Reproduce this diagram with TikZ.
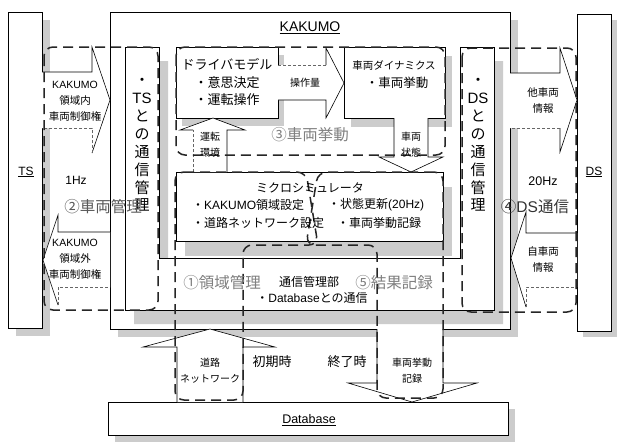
\documentclass[tikz,border=0pt]{standalone}
\usepackage{fontspec}
\setmainfont{Noto Sans CJK JP}
\newfontfamily\lat{Liberation Sans}
\usetikzlibrary{shadows}
\begin{document}
\begin{tikzpicture}[x=1pt,y=-1pt,
  box/.style={draw=black, line width=0.7pt, fill=white, inner sep=0pt, outer sep=0pt},
  shad/.style n args={2}{drop shadow={shadow xshift=#1pt, shadow yshift=-#2pt, fill=black!20, opacity=1}},
  region/.style={draw=black!85, line width=1.5pt, dash pattern=on 10pt off 6pt, rounded corners=9pt},
  afill/.style={fill=white},
  aedge/.style={draw=black, line width=0.6pt},
  faint/.style={draw=black!60, line width=0.6pt, dash pattern=on 3pt off 2pt},
  txt/.style={inner sep=0pt, align=center},
  f10/.style={font=\fontsize{10}{16}\selectfont},
  f11/.style={font=\fontsize{10.5}{16}\selectfont},
  f12/.style={font=\fontsize{12}{16}\selectfont},
  f13/.style={font=\fontsize{13}{17.5}\selectfont},
  vtxt/.style={font=\fontsize{15}{17.9}\selectfont},
  reglbl/.style={font=\fontsize{15.5}{18}\selectfont},
]
\useasboundingbox (0,0) rectangle (617,442);
\fill[white] (0,0) rectangle (617,442);

% outer boxes
\node[box, shad={8}{8}, anchor=north west, minimum width=34pt, minimum height=316pt] (ts) at (8,12) {};
\node[box, shad={6}{6}, anchor=north west, minimum width=34pt, minimum height=317pt] (ds) at (577,14) {};
\node[box, shad={8}{8}, anchor=north west, minimum width=400pt, minimum height=317pt] (kak) at (110,12) {};
\node[box, shad={7}{7}, anchor=north west, minimum width=400pt, minimum height=33pt] (db) at (108,402) {};

% communication management (U shape)
\draw[box, shad={9}{14}] (125,47) -- (159,47) -- (159,258) -- (460,258) -- (460,47) -- (494,47) -- (494,310) -- (125,310) -- cycle;

% inner boxes
\node[box, shad={6}{8}, anchor=north west, minimum width=102pt, minimum height=71pt] (drv) at (176,47) {};
\node[box, shad={7}{9}, anchor=north west, minimum width=101pt, minimum height=71pt] (veh) at (344,47) {};
\node[box, shad={9}{15}, anchor=north west, minimum width=267pt, minimum height=69pt] (sim) at (176,172) {};

% block arrows
% TS -> KAKUMO
\fill[afill] (42,72) -- (92,72) -- (92,47) -- (110,100) -- (92,153) -- (92,128) -- (42,128) -- cycle;
\draw[aedge] (42,72) -- (92,72) -- (92,47) -- (110,100) -- (92,153);
\draw[faint] (92,153) -- (92,128) -- (42,128);
% KAKUMO -> TS
\fill[afill] (110,232) -- (58,232) -- (58,215) -- (43,260) -- (58,305) -- (58,287) -- (110,287) -- cycle;
\draw[aedge] (110,232) -- (58,232) -- (58,215) -- (43,260) -- (58,305);
\draw[faint] (58,305) -- (58,287) -- (110,287);
% operation amount
\fill[afill] (278,65) -- (326,65) -- (326,48) -- (344,83) -- (326,118) -- (326,100) -- (278,100) -- cycle;
\draw[faint] (278,65) -- (326,65);
\draw[aedge] (326,65) -- (326,48) -- (344,83) -- (326,118) -- (326,100) -- (278,100);
% vehicle state (down)
\fill[afill] (394,118) -- (394,157) -- (379,157) -- (411,172) -- (443,157) -- (428,157) -- (428,118) -- cycle;
\draw[aedge] (394,118) -- (394,157) -- (379,157) -- (411,172) -- (443,157) -- (428,157) -- (428,118);
% driving environment (up)
\fill[afill] (193,172) -- (193,130) -- (180,130) -- (213,118) -- (245,130) -- (227,130) -- (227,172) -- cycle;
\draw[faint] (193,172) -- (193,130);
\draw[aedge] (193,130) -- (180,130) -- (213,118) -- (245,130) -- (227,130) -- (227,172);
% other vehicles -> DS
\fill[afill] (510,73) -- (560,73) -- (560,48) -- (577,100) -- (560,152) -- (560,128) -- (510,128) -- cycle;
\draw[aedge] (510,73) -- (560,73) -- (560,48) -- (577,100) -- (560,152) -- (560,128);
\draw[faint] (560,128) -- (510,128);
% own vehicle DS -> KAKUMO
\fill[afill] (577,233) -- (526,233) -- (526,212) -- (511,258) -- (526,307) -- (526,287) -- (577,287) -- cycle;
\draw[aedge] (577,233) -- (526,233) -- (526,212) -- (511,258) -- (526,307);
\draw[faint] (526,307) -- (526,287) -- (577,287);
% road network (up)
\fill[afill] (177,402) -- (177,347) -- (143,347) -- (210,329) -- (275,347) -- (243,347) -- (243,402) -- cycle;
\draw[aedge] (177,402) -- (177,347) -- (143,347) -- (210,329) -- (275,347) -- (243,347) -- (243,402);
% vehicle behaviour record (down)
\fill[afill] (377,329) -- (377,383) -- (348,383) -- (412,402) -- (477,383) -- (443,383) -- (443,329) -- cycle;
\draw[aedge] (377,329) -- (377,383) -- (348,383) -- (412,402) -- (477,383) -- (443,383) -- (443,329);

% dashed regions
\draw[region] (44,47) rectangle (158,310);
\draw[region] (176,47) rectangle (445,155);
\draw[region] (462,48) rectangle (576,312);
\draw[region] (175,172) -- (306,172) -- (318,245) -- (243,245) -- (243,400) -- (175,400) -- cycle;
\draw[region] (443,172) -- (318,172) -- (306,245) -- (377,245) -- (377,398) -- (443,398) -- cycle;

% box texts
\node[txt] (tst) at (26,172) {\lat\fontsize{12}{14}\selectfont\underline{TS}};
\node[txt] (dst) at (594,172) {\lat\fontsize{12}{14}\selectfont\underline{DS}};
\node[txt] (kakt) at (310,28) {\lat\fontsize{14}{16}\selectfont\underline{KAKUMO}};
\node[txt] (dbt) at (309,420) {\lat\fontsize{12.5}{14}\selectfont\underline{Database}};
\node[txt, f13] (drvt) at (227,82) {ドライバモデル\\・意思決定\\・運転操作};
\node[txt, font=\fontsize{10.5}{12}\selectfont] (veht1) at (394,65) {車両ダイナミクス};
\node[txt, font=\fontsize{12.5}{14}\selectfont] (veht2) at (397,83) {・車両挙動};
\node[txt, f12] (simt) at (310,188) {ミクロシミュレータ};
\node[txt, f12, anchor=west] (sim1) at (192,205) {・{\lat KAKUMO}領域設定};
\node[txt, f12, anchor=west] (sim2) at (328,205) {・状態更新{\lat (20Hz)}};
\node[txt, f12, anchor=west] (sim3) at (192,223) {・道路ネットワーク設定};
\node[txt, f12, anchor=west] (sim4) at (337,223) {・車両挙動記録};
\node[txt, f12] (com1) at (309,282) {通信管理部};
\node[txt, f12] (com2) at (312,298) {・{\lat Database}との通信};
\node[txt, vtxt] (tsc) at (142,145) {・\\{\lat TS}\\と\\の\\通\\信\\管\\理};
\node[txt, vtxt] (dsc) at (478,145) {・\\{\lat DS}\\と\\の\\通\\信\\管\\理};

% arrow labels
\node[txt, f10] (opq) at (305,83) {操作量};
\node[txt, f10] (env) at (210,145) {運転\\環境};
\node[txt, f10] (vst) at (411,145) {車両\\状態};
\node[txt, f11] (inctl) at (75,101) {{\lat KAKUMO}\\領域内\\車両制御権};
\node[txt, f11] (outctl) at (75,259) {{\lat KAKUMO}\\領域外\\車両制御権};
\node[txt, f11] (oth) at (543,101) {他車両\\情報};
\node[txt, f11] (own) at (543,260) {自車両\\情報};
\node[txt, f10] (road) at (210,371) {道路\\ネットワーク};
\node[txt, f10] (rec) at (412,371) {車両挙動\\記録};
\node[txt, font=\fontsize{13}{15}\selectfont] (init) at (272,362) {初期時};
\node[txt, font=\fontsize{13}{15}\selectfont] (endt) at (347,362) {終了時};
\node[txt] (hz1) at (76,180) {\lat\fontsize{12}{14}\selectfont 1Hz};
\node[txt] (hz20) at (543,181) {\lat\fontsize{12.5}{14}\selectfont 20Hz};

% region labels
\node[txt, reglbl, text=black!50] (r1) at (222,283) {①領域管理};
\node[txt, reglbl, text=black!65] (r2) at (103,207) {②車両管理};
\node[txt, reglbl, text=black!50] (r3) at (310,135) {③車両挙動};
\node[txt, reglbl, text=black!80] (r4) at (535,207) {④{\lat DS}通信};
\node[txt, reglbl, text=black!50] (r5) at (394,283) {⑤結果記録};
\end{tikzpicture}
\end{document}
